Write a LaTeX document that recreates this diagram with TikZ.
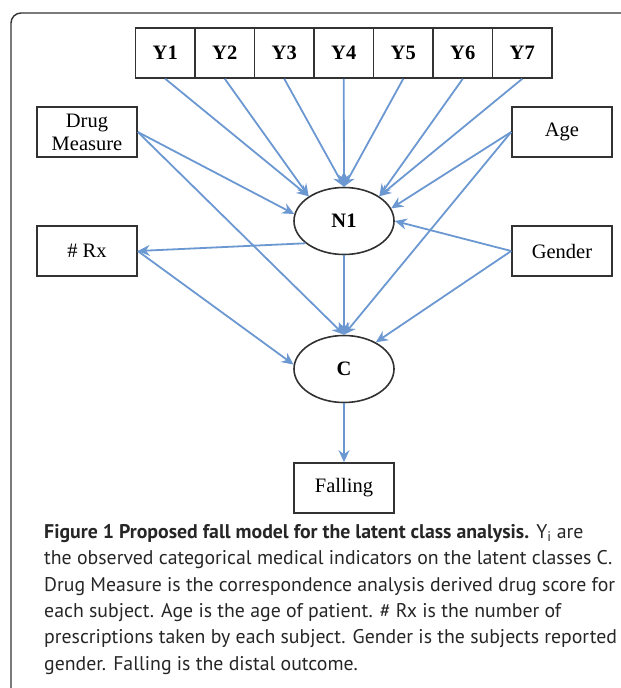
\documentclass[tikz,border=0pt]{standalone}
\usepackage{fontspec}
\setmainfont{Liberation Serif}
\newfontfamily\capfont{PT Sans}
\usetikzlibrary{arrows.meta,shapes.geometric}
\definecolor{linkblue}{RGB}{108,152,210}
\definecolor{boxgray}{RGB}{50,50,50}
\tikzset{
	box/.style={draw=boxgray, line width=1.6pt, minimum width=100pt, minimum height=50pt, inner sep=0pt, align=center, font=\fontsize{20.5}{23}\selectfont},
	ybox/.style={box, minimum width=59.5pt, font=\fontsize{20.5}{23}\selectfont\bfseries},
	latent/.style={draw=boxgray, line width=1.6pt, ellipse, minimum width=100pt, minimum height=67pt, inner sep=0pt, font=\fontsize{20.5}{23}\selectfont\bfseries},
	link/.style={draw=linkblue, line width=1.8pt, -{Stealth[length=12pt, width=11pt, inset=4pt]}},
	frame/.style={draw=black!80, line width=1.4pt, rounded corners=10pt}
}

\begin{document}
\begin{tikzpicture}[x=1pt, y=-1pt]
			%%%%% START %%%%%
			\useasboundingbox (0, 0) rectangle (621, 688);
			\begin{scope}
				\clip (0, 0) rectangle (621, 688);
				\draw[frame] (11, 13) rectangle (660, 700);
			\end{scope}
			
			% indicators
			\node[ybox] (y1) at (165.25, 53) {Y1};
			\node[ybox] (y2) at (224.75, 53) {Y2};
			\node[ybox] (y3) at (284.25, 53) {Y3};
			\node[ybox] (y4) at (343.75, 53) {Y4};
			\node[ybox] (y5) at (403.25, 53) {Y5};
			\node[ybox] (y6) at (462.75, 53) {Y6};
			\node[ybox] (y7) at (522.25, 53) {Y7};
			
			% covariates
			\node[box] (drug) at (87, 132) {Drug\\Measure};
			\node[box] (age) at (562, 132) {Age};
			\node[box] (rx) at (87, 251) {\# Rx};
			\node[box] (gender) at (562, 251) {Gender};
			
			% latent variables and outcome
			\node[latent] (n1) at (344, 221) {N1};
			\node[latent] (c) at (344, 369) {C};
			\node[box] (falling) at (344, 488) {Falling};
			
			\draw[link] (y1.south) -- (n1.145);
			\draw[link] (y2.south) -- (n1.145);
			\draw[link] (y3.south) -- (n1.north);
			\draw[link] (y4.south) -- (n1.north);
			\draw[link] (y5.south) -- (n1.north);
			\draw[link] (y6.south) -- (n1.35);
			\draw[link] (y7.south) -- (n1.35);
			
			\draw[link] (drug.east) -- (n1.172);
			\draw[link] (drug.east) -- (c.north);
			\draw[link] (age.west) -- (n1.15);
			\draw[link] (age.west) -- (c.north);
			\draw[link] (gender.west) -- (n1.0);
			\draw[link] (gender.west) -- (c.40);
			\draw[link] (n1.210) -- (rx.east);
			\draw[link] (rx.east) -- (c.175);
			\draw[link] (n1.south) -- (c.north);
			\draw[link] (c.south) -- (falling.north);
			
			% caption
			\node[anchor=north west, align=left, inner sep=0pt, text=black!85, font=\capfont\fontsize{19.8}{26.4}\selectfont] (caption) at (44, 524)
				{\textbf{Figure 1 Proposed fall model for the latent class analysis.} Y\textsubscript{i} are\\
				the observed categorical medical indicators on the latent classes C.\\
				Drug Measure is the correspondence analysis derived drug score for\\
				each subject. Age is the age of patient. \# Rx is the number of\\
				prescriptions taken by each subject. Gender is the subjects reported\\
				gender. Falling is the distal outcome.};
			%%%%% END %%%%%
\end{tikzpicture}
\end{document}
